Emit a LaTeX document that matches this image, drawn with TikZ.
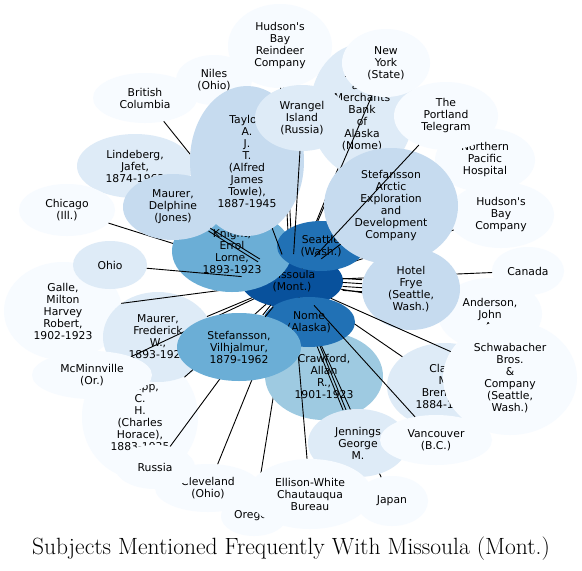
\documentclass[tikz,border=0pt]{standalone}
\usepackage{fontspec}
\newfontfamily\dvfont{DejaVu Sans}
\usetikzlibrary{shapes.geometric}
\definecolor{bA}{HTML}{F7FBFF}
\definecolor{bB}{HTML}{DEEBF7}
\definecolor{bC}{HTML}{C6DBEF}
\definecolor{bD}{HTML}{9ECAE1}
\definecolor{bE}{HTML}{6BAED6}
\definecolor{bG}{HTML}{2171B5}
\definecolor{bH}{HTML}{08519C}
\pgfdeclarelayer{nA}
\pgfdeclarelayer{eA}
\pgfdeclarelayer{nB}
\pgfdeclarelayer{eB}
\pgfdeclarelayer{nC}
\pgfdeclarelayer{eC}
\pgfsetlayers{nA,eA,nB,eB,nC,eC,main}
\tikzset{
  bub/.style={ellipse, inner sep=0pt, outer sep=0pt, align=center,
    font=\dvfont\fontsize{10.8}{12}\selectfont, text=black},
  ed/.style={draw=black, line width=0.9pt},
}
\begin{document}
\begin{tikzpicture}[x=1pt,y=-1pt]
\useasboundingbox (0,0) rectangle (582,571);
\begin{pgfonlayer}{nA}
\fill[white] (0,0) rectangle (582,571);
\node[bub,fill=bA,minimum width=104,minimum height=84] (rd) at (280,46) {Hudson's\\Bay\\Reindeer\\Company};
\node[bub,fill=bA,minimum width=76,minimum height=50] (ni) at (214,80) {Niles\\(Ohio)};
\node[bub,fill=bA,minimum width=104,minimum height=50] (bc) at (145,98) {British\\Columbia};
\node[bub,fill=bB,minimum width=116,minimum height=64] (li) at (135,166) {Lindeberg,\\Jafet,\\1874-1962};
\node[bub,fill=bA,minimum width=96,minimum height=52] (ch) at (67,210) {Chicago\\(Ill.)};
\node[bub,fill=bA,minimum width=118,minimum height=98] (ga) at (63,311) {Galle,\\Milton\\Harvey\\Robert,\\1902-1923};
\node[bub,fill=bB,minimum width=74,minimum height=48] (oh) at (110,265) {Ohio};
\node[bub,fill=bA,minimum width=116,minimum height=124] (kn) at (140,417) {Knapp,\\C.\\H.\\(Charles\\Horace),\\1883-1935};
\node[bub,fill=bB,minimum width=110,minimum height=90] (mf) at (158,337) {Maurer,\\Frederick\\W.,\\1893-1923};
\node[bub,fill=bA,minimum width=66,minimum height=40] (or) at (254,516) {Oregon};
\node[bub,fill=bB,minimum width=104,minimum height=132] (mb) at (362,110) {Miners\\and\\Merchants\\Bank\\of\\Alaska\\(Nome)};
\node[bub,fill=bA,minimum width=100,minimum height=64] (np) at (485,160) {Northern\\Pacific\\Hospital};
\node[bub,fill=bA,minimum width=106,minimum height=66] (hb) at (501,215) {Hudson's\\Bay\\Company};
\node[bub,fill=bA,minimum width=72,minimum height=48] (ca) at (528,271) {Canada};
\node[bub,fill=bA,minimum width=104,minimum height=72] (an) at (490,314) {Anderson,\\John\\A.};
\node[bub,fill=bH,minimum width=102,minimum height=54] (ms) at (292,281) {Missoula\\(Mont.)};
\node[bub,fill=bB,minimum width=116,minimum height=86] (cl) at (445,386) {Clark,\\M.\\Brenner,\\1884-1950};
\node[bub,fill=bA,minimum width=72,minimum height=50] (jp) at (392,501) {Japan};
\end{pgfonlayer}
\begin{pgfonlayer}{nB}
\node[bub,fill=bD,minimum width=118,minimum height=88] (cr) at (324,376) {Crawford,\\Allan\\R.,\\1901-1923};
\end{pgfonlayer}
\begin{pgfonlayer}{nC}
\node[bub,fill=bE,minimum width=120,minimum height=82] (kt) at (232,251) {Knight,\\Errol\\Lorne,\\1893-1923};
\node[bub,fill=bC,minimum width=100,minimum height=66] (md) at (173,207) {Maurer,\\Delphine\\(Jones)};
\node[bub,fill=bC,minimum width=114,minimum height=150] (ta) at (247,161) {Taylor,\\A.\\J.\\T.\\(Alfred\\James\\Towle),\\1887-1945};
\node[bub,fill=bB,minimum width=94,minimum height=66] (wr) at (302,118) {Wrangel\\Island\\(Russia)};
\node[bub,fill=bA,minimum width=88,minimum height=68] (ny) at (386,63) {New\\York\\(State)};
\node[bub,fill=bG,minimum width=88,minimum height=50] (se) at (321,246) {Seattle\\(Wash.)};
\node[bub,fill=bC,minimum width=134,minimum height=116] (sa) at (391,206) {Stefansson\\Arctic\\Exploration\\and\\Development\\Company};
\node[bub,fill=bA,minimum width=104,minimum height=68] (pt) at (446,116) {The\\Portland\\Telegram};
\node[bub,fill=bC,minimum width=98,minimum height=82] (hf) at (411,289) {Hotel\\Frye\\(Seattle,\\Wash.)};
\node[bub,fill=bG,minimum width=92,minimum height=50] (nm) at (309,322) {Nome\\(Alaska)};
\node[bub,fill=bE,minimum width=124,minimum height=68] (sv) at (239,347) {Stefansson,\\Vilhjalmur,\\1879-1962};
\node[bub,fill=bB,minimum width=100,minimum height=68] (je) at (358,443) {Jennings\\George\\M.};
\node[bub,fill=bA,minimum width=112,minimum height=50] (va) at (436,440) {Vancouver\\(B.C.)};
\node[bub,fill=bA,minimum width=134,minimum height=114] (sb) at (510,378) {Schwabacher\\Bros.\\\&\\Company\\(Seattle,\\Wash.)};
\node[bub,fill=bA,minimum width=120,minimum height=48] (mc) at (92,375) {McMinnville\\(Or.)};
\node[bub,fill=bA,minimum width=106,minimum height=48] (cv) at (208,488) {Cleveland\\(Ohio)};
\node[bub,fill=bA,minimum width=80,minimum height=44] (ru) at (155,467) {Russia};
\node[bub,fill=bA,minimum width=124,minimum height=70] (ew) at (310,494) {Ellison-White\\Chautauqua\\Bureau};
\end{pgfonlayer}
\begin{pgfonlayer}{eA}
\draw[ed] (or) -- (ms);
\end{pgfonlayer}
\begin{pgfonlayer}{eB}
\draw[ed] (bc) -- (ms);
\draw[ed,transform canvas={shift={(-1.5,0)}}] (rd) -- (ms);
\draw[ed,transform canvas={shift={(1.5,0)}}] (rd) -- (ms);
\draw[ed] (ni) -- (ms);
\draw[ed] (li) -- (ms);
\draw[ed] (ch) -- (ms);
\draw[ed] (ga) -- (ms);
\draw[ed] (kn) -- (ms);
\draw[ed] (mb) -- (ms);
\draw[ed] (ny) -- (ms);
\draw[ed] (np) -- (ms);
\draw[ed] (hb) -- (ms);
\draw[ed] (ca) -- (ms);
\draw[ed] (an) -- (ms);
\draw[ed] (cl) -- (ms);
\draw[ed] (jp) -- (ms);
\draw[ed,transform canvas={shift={(-1.5,0)}}] (je) -- (ms);
\draw[ed,transform canvas={shift={(1.5,0)}}] (je) -- (ms);
\draw[ed] (ew) -- (ms);
\draw[ed] (cv) -- (ms);
\draw[ed] (ru) -- (ms);
\draw[ed] (mf) -- (ms);
\draw[ed] (mc) -- (ms);
\draw[ed] (kt) -- (ms);
\draw[ed] (se) -- (ms);
\draw[ed] (nm) -- (ms);
\draw[ed] (cr) -- (ms);
\end{pgfonlayer}
\begin{pgfonlayer}{eC}
\draw[ed] (oh) -- (ms);
\draw[ed,transform canvas={shift={(-0.9,1.4)}}] (md) -- (ms);
\draw[ed,transform canvas={shift={(0.9,-1.4)}}] (md) -- (ms);
\draw[ed] (ta) -- (ms);
\draw[ed] (wr) -- (ms);
\draw[ed] (pt) -- (ms);
\draw[ed] (sa) -- (ms);
\draw[ed,transform canvas={shift={(0,-6)}}] (hf) -- (ms);
\draw[ed,transform canvas={shift={(0,-2)}}] (hf) -- (ms);
\draw[ed,transform canvas={shift={(0,2)}}] (hf) -- (ms);
\draw[ed,transform canvas={shift={(0,6)}}] (hf) -- (ms);
\draw[ed] (va) -- (ms);
\draw[ed] (sb) -- (ms);
\draw[ed,transform canvas={shift={(1.2,0.9)}}] (sv) -- (ms);
\draw[ed,transform canvas={shift={(-1.2,-0.9)}}] (sv) -- (ms);
\end{pgfonlayer}
\node[font=\fontsize{23.5}{28}\selectfont] (title) at (291,549) {Subjects Mentioned Frequently With Missoula (Mont.)};
\end{tikzpicture}
\end{document}
